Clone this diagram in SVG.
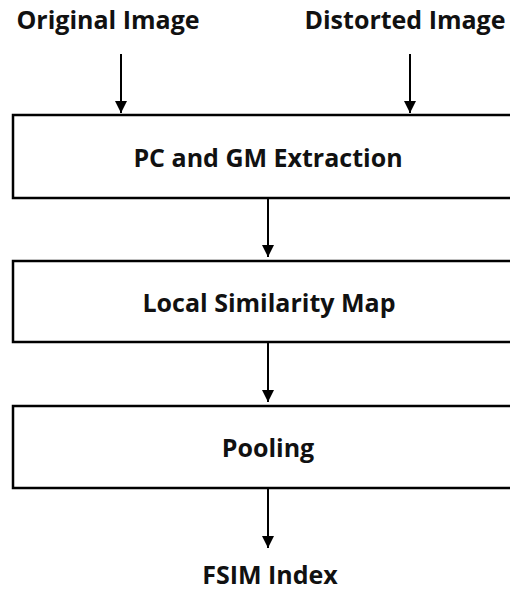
<svg xmlns="http://www.w3.org/2000/svg" width="510" height="592" viewBox="0 0 510 592">
<defs>
<style>
.t{font-family:"Open Sans","Liberation Sans",sans-serif;font-weight:bold;font-size:25px;fill:#111;text-anchor:middle}
.b{fill:#fff;stroke:#000;stroke-width:2.5}
.c{stroke:#000;stroke-width:2;fill:none}
</style>
<marker id="ah" viewBox="0 0 12 12" refX="12" refY="6" markerWidth="12" markerHeight="12" markerUnits="userSpaceOnUse" orient="auto">
<path d="M0,0 L12,6 L0,12 z" fill="#000"/>
</marker>
</defs>
<rect width="510" height="592" fill="#fff"/>
<g id="original"><text class="t" x="108" y="29">Original Image</text></g>
<g id="distorted"><text class="t" x="405" y="29">Distorted Image</text></g>
<g id="pcgm"><rect class="b" x="13" y="115" width="510" height="83"/><text class="t" x="268" y="167">PC and GM Extraction</text></g>
<g id="lsm"><rect class="b" x="13" y="261" width="510" height="81"/><text class="t" x="269" y="312">Local Similarity Map</text></g>
<g id="pooling"><rect class="b" x="13" y="406" width="510" height="82"/><text class="t" x="268" y="457">Pooling</text></g>
<g id="fsim"><text class="t" x="270" y="584">FSIM Index</text></g>
<g id="connectors">
<line class="c" x1="121" y1="54" x2="121" y2="113" marker-end="url(#ah)"/>
<line class="c" x1="410" y1="54" x2="410" y2="113" marker-end="url(#ah)"/>
<line class="c" x1="268" y1="199" x2="268" y2="257" marker-end="url(#ah)"/>
<line class="c" x1="268" y1="343" x2="268" y2="402" marker-end="url(#ah)"/>
<line class="c" x1="268" y1="489" x2="268" y2="548" marker-end="url(#ah)"/>
</g>
</svg>
